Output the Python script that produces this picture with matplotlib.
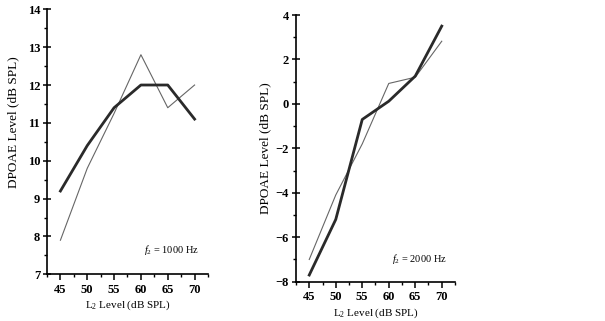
import numpy as np
import matplotlib
matplotlib.use('Agg')
import matplotlib.pyplot as plt
from matplotlib.ticker import MultipleLocator

plt.rcParams['font.family'] = ['Liberation Serif', 'DejaVu Serif']
plt.rcParams['mathtext.fontset'] = 'custom'
plt.rcParams['mathtext.rm'] = 'Liberation Serif'
plt.rcParams['mathtext.it'] = 'Liberation Serif:italic'
plt.rcParams['mathtext.bf'] = 'Liberation Serif:bold'

# L2 levels (dB SPL)
levels = [45, 50, 55, 60, 65, 70]

# f2 = 1000 Hz
thick_1000 = [9.2, 10.4, 11.4, 12.0, 12.0, 11.1]
thin_1000 = [7.9, 9.8, 11.25, 12.8, 11.4, 12.0]

# f2 = 2000 Hz
thick_2000 = [-7.7, -5.2, -0.7, 0.12, 1.25, 3.5]
thin_2000 = [-7.0, -4.1, -1.8, 0.92, 1.2, 2.82]

fig = plt.figure(figsize=(6.05, 3.21), dpi=100)
ax1 = fig.add_axes([47 / 605, 1 - 274.3 / 321, 161 / 605, 265 / 321])
ax2 = fig.add_axes([296 / 605, 1 - 281.7 / 321, 159 / 605, 266.7 / 321])


def style_axis(ax, ylim, ymajor, yminor):
    ax.set_xlim(42.5, 72.5)
    ax.set_ylim(*ylim)
    ax.xaxis.set_major_locator(MultipleLocator(5))
    ax.xaxis.set_minor_locator(MultipleLocator(2.5))
    ax.yaxis.set_major_locator(MultipleLocator(ymajor))
    ax.yaxis.set_minor_locator(MultipleLocator(yminor))
    for side in ['top', 'right']:
        ax.spines[side].set_visible(False)
    for side in ['left', 'bottom']:
        ax.spines[side].set_linewidth(1.2)
    ax.tick_params(axis='x', which='major', direction='out', length=4, width=1.1, labelsize=9, pad=3)
    ax.tick_params(axis='x', which='minor', direction='out', length=2.5, width=1.0)
    ax.tick_params(axis='y', which='major', direction='inout', length=6, width=1.1, labelsize=9, pad=2)
    ax.tick_params(axis='y', which='minor', direction='out', length=2.5, width=1.0)
    for lbl in ax.get_xticklabels() + ax.get_yticklabels():
        lbl.set_fontweight('bold')
    ax.set_xlabel('L$_2$ Level (dB SPL)', fontsize=8, labelpad=2)
    ax.set_ylabel('DPOAE Level (dB SPL)', fontsize=9.5, labelpad=3)


ax1.plot(levels, thin_1000, color='#666666', linewidth=0.8)
ax1.plot(levels, thick_1000, color='#2a2a2a', linewidth=2.0)
style_axis(ax1, (7, 14), 1, 0.5)
ax1.yaxis.set_label_coords(-0.175, 0.575)
ax1.text(70.8, 7.65, '$\\mathit{f}_2$ = 1000 Hz', ha='right', va='center', fontsize=7.5)

ax2.plot(levels, thin_2000, color='#666666', linewidth=0.8)
ax2.plot(levels, thick_2000, color='#2a2a2a', linewidth=2.0)
style_axis(ax2, (-8, 4), 2, 1)
ax2.text(70.9, -6.98, '$\\mathit{f}_2$ = 2000 Hz', ha='right', va='center', fontsize=7.5)

fig.savefig('out.png', dpi=100)
